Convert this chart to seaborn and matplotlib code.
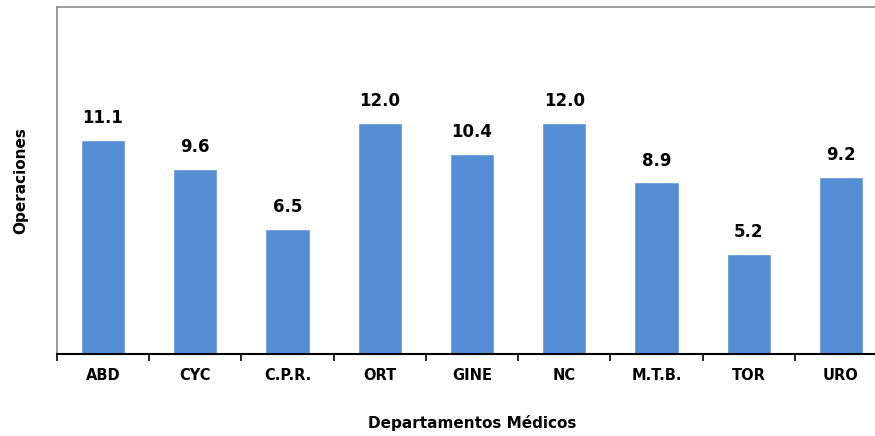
import numpy as np
import pandas as pd
import matplotlib
matplotlib.use("Agg")
import matplotlib.pyplot as plt
import seaborn as sns

departamentos = ["ABD", "CYC", "C.P.R.", "ORT", "GINE", "NC", "M.T.B.", "TOR", "URO"]
operaciones = [11.1, 9.6, 6.5, 12.0, 10.4, 12.0, 8.9, 5.2, 9.2]

sns.set_style("white")
plt.rcParams["font.family"] = ["DejaVu Sans"]
plt.rcParams["text.color"] = "black"
plt.rcParams["axes.labelcolor"] = "black"
plt.rcParams["xtick.color"] = "black"

df = pd.DataFrame({"dep": departamentos, "ops": operaciones})

fig = plt.figure(figsize=(8.75, 4.36), dpi=100)
ax = fig.add_axes([57 / 875, 1 - 354 / 436, 830 / 875, 347 / 436])

sns.barplot(
    data=df,
    x="dep",
    y="ops",
    color="#558ed5",
    saturation=1,
    width=0.48,
    ax=ax,
)

# etiquetas de valor
for i, v in enumerate(operaciones):
    ax.text(i, v + 1.12, f"{v:.1f}", ha="center", va="center",
            fontsize=12, fontweight="bold", color="black")

ax.set_xlim(-0.5, 8.5)
ax.set_ylim(0, 18)
ax.set_yticks([])

ax.set_xticks(np.arange(len(departamentos)))
ax.set_xticklabels(departamentos, fontsize=10.5, fontweight="bold")
ax.set_xticks(np.arange(-0.5, len(departamentos), 1), minor=True)
ax.tick_params(axis="x", which="major", length=0, pad=10)
ax.tick_params(axis="x", which="minor", length=5, width=1.2,
               direction="out", color="black", bottom=True)

ax.set_xlabel("Departamentos Médicos", fontsize=11, fontweight="bold", labelpad=23)
ax.set_ylabel("Operaciones", fontsize=11, fontweight="bold", labelpad=21)

for side in ["left", "top", "right"]:
    ax.spines[side].set_color("#8c8c8c")
    ax.spines[side].set_linewidth(1.2)
ax.spines["bottom"].set_color("black")
ax.spines["bottom"].set_linewidth(1.5)

fig.savefig("out.png", dpi=100)
plt.close(fig)
